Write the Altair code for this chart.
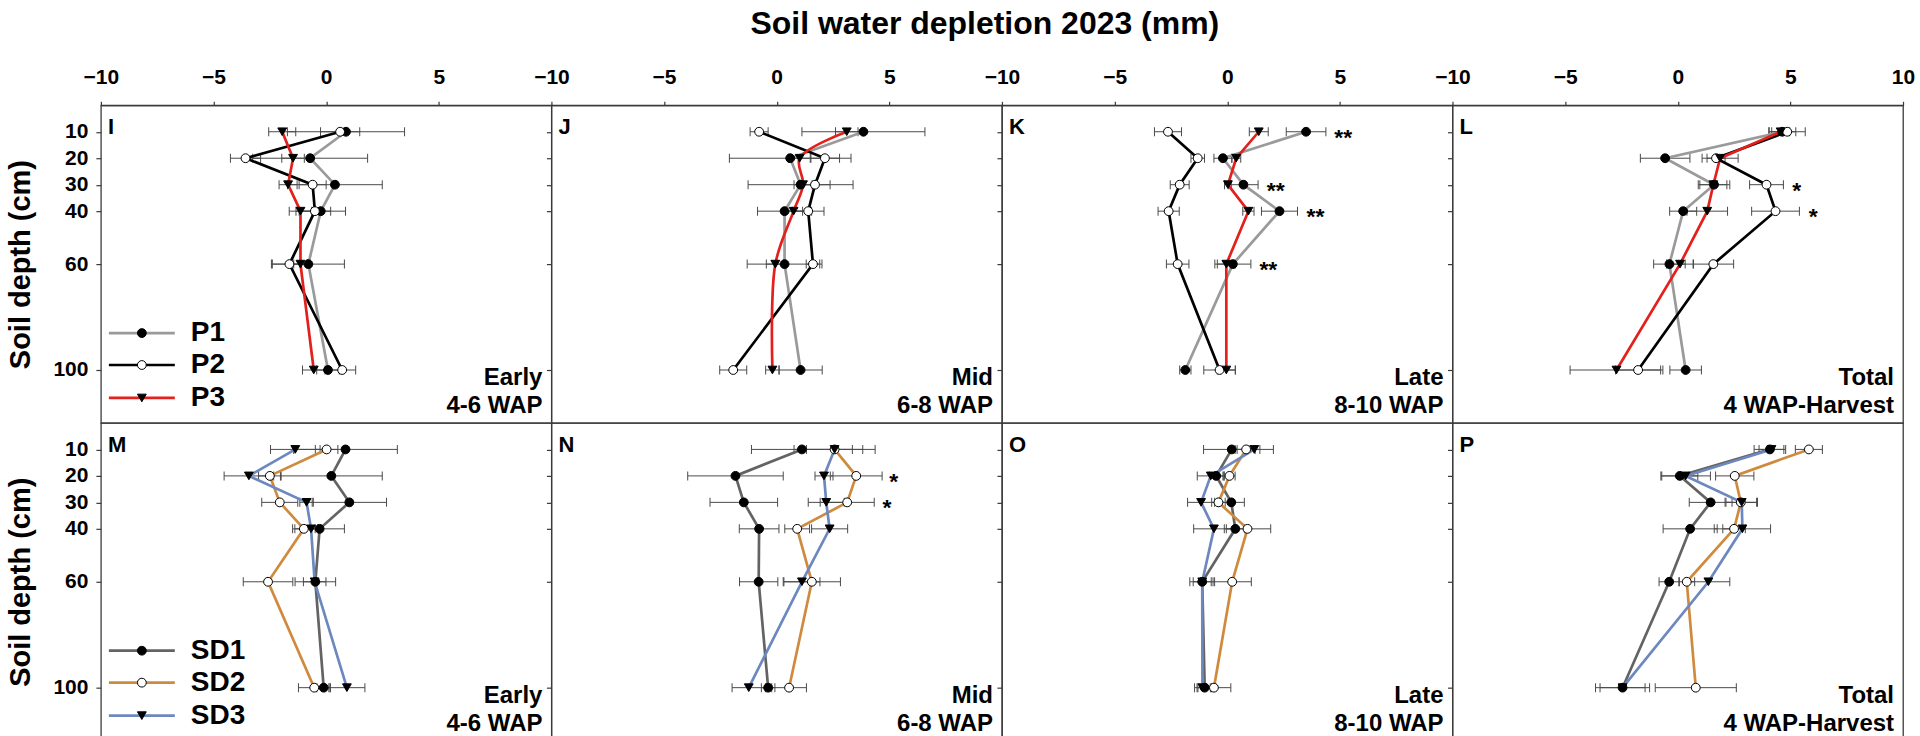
import altair as alt
import pandas as pd

FONT = "Liberation Sans"
DEPTHS = [10, 20, 30, 40, 60, 100]

P_SERIES = ["P1", "P2", "P3"]
SD_SERIES = ["SD1", "SD2", "SD3"]

# ---- Panel I (Early, 4-6 WAP) ----
I_P1 = [0.88, -0.71, 0.39, -0.24, -0.79, 0.08]
I_P1_err = [2.6, 2.55, 2.1, 1.1, 1.6, 0.5]
I_P2 = [0.62, -3.58, -0.60, -0.50, -1.63, 0.71]
I_P2_err = [0.87, 0.67, 0.6, 0.7, 0.8, 0.6]
I_P3 = [-1.95, -1.47, -1.69, -1.14, -1.14, -0.55]
I_P3_err = [0.6, 0.5, 0.4, 0.5, 0.3, 0.5]

# ---- Panel J (Mid, 6-8 WAP) ----
J_P1 = [3.85, 0.60, 1.06, 0.35, 0.35, 1.06]
J_P1_err = [2.73, 2.7, 2.33, 1.2, 1.66, 0.96]
J_P2 = [-0.78, 2.14, 1.70, 1.40, 1.61, -1.93]
J_P2_err = [0.4, 0.65, 0.67, 0.7, 0.3, 0.6]
J_P3 = [3.11, 1.02, 1.17, 0.75, -0.06, -0.19]
J_P3_err = [0.5, 0.5, 0.4, 0.4, 0.4, 0.3]

# ---- Panel K (Late, 8-10 WAP) ----
K_P1 = [3.50, -0.19, 0.72, 2.32, 0.25, -1.86]
K_P1_err = [0.88, 0.4, 0.65, 0.8, 0.8, 0.25]
K_P2 = [-2.63, -1.31, -2.11, -2.60, -2.20, -0.34]
K_P2_err = [0.6, 0.3, 0.42, 0.47, 0.5, 0.7]
K_P3 = [1.40, 0.40, 0.03, 0.94, -0.04, -0.04]
K_P3_err = [0.42, 0.2, 0.15, 0.25, 0.4, 0.4]

# ---- Panel L (Total, 4 WAP-Harvest) ----
L_P1 = [4.64, -0.56, 1.61, 0.24, -0.37, 0.35]
L_P1_err = [0.6, 1.1, 0.7, 0.6, 0.7, 0.7]
L_P2 = [4.86, 1.70, 3.94, 4.34, 1.58, -1.76]
L_P2_err = [0.8, 0.4, 0.75, 1.06, 0.9, 1.0]
L_P3 = [4.57, 1.88, 1.58, 1.31, 0.10, -2.72]
L_P3_err = [0.4, 0.8, 0.6, 0.9, 0.6, 2.06]

# ---- Panel M (Early, 4-6 WAP) ----
M_SD1 = [0.86, 0.23, 1.03, -0.29, -0.48, -0.11]
M_SD1_err = [2.3, 2.26, 1.65, 1.1, 0.9, 0.3]
M_SD2 = [0.02, -2.50, -2.06, -0.99, -2.58, -0.53]
M_SD2_err = [0.5, 0.5, 0.8, 0.5, 1.1, 0.7]
M_SD3 = [-1.37, -3.43, -0.87, -0.67, -0.51, 0.92]
M_SD3_err = [1.1, 1.1, 0.3, 0.3, 0.5, 0.8]

# ---- Panel N (Mid, 6-8 WAP) ----
N_SD1 = [1.12, -1.83, -1.46, -0.78, -0.80, -0.38]
N_SD1_err = [2.24, 2.12, 1.5, 0.88, 0.85, 0.3]
N_SD2 = [2.57, 3.53, 3.13, 0.91, 1.56, 0.55]
N_SD2_err = [1.8, 1.15, 1.2, 0.55, 1.27, 0.77]
N_SD3 = [2.57, 2.10, 2.20, 2.35, 1.12, -1.24]
N_SD3_err = [1.25, 0.4, 0.8, 0.8, 0.8, 0.74]

# ---- Panel O (Late, 8-10 WAP) ----
O_SD1 = [0.20, -0.49, 0.18, 0.36, -1.11, -1.00]
O_SD1_err = [1.25, 0.3, 0.58, 0.4, 0.4, 0.3]
O_SD2 = [0.84, 0.10, -0.39, 0.90, 0.22, -0.59]
O_SD2_err = [0.4, 0.25, 0.3, 1.03, 0.85, 0.75]
O_SD3 = [1.20, -0.73, -1.16, -0.59, -1.11, -1.10]
O_SD3_err = [0.85, 0.6, 0.6, 0.9, 0.55, 0.35]

# ---- Panel P (Total, 4 WAP-Harvest) ----
P_SD1 = [4.09, 0.09, 1.46, 0.55, -0.38, -2.45]
P_SD1_err = [0.7, 0.8, 0.95, 1.2, 0.45, 1.0]
P_SD2 = [5.82, 2.53, 2.80, 2.50, 0.40, 0.80]
P_SD2_err = [0.6, 0.85, 0.7, 0.5, 0.35, 1.8]
P_SD3 = [4.16, 0.35, 2.84, 2.87, 1.36, -2.45]
P_SD3_err = [0.55, 1.1, 0.7, 1.25, 0.95, 1.2]

# ---- significance marks ----
K_star_depth = [10, 30, 40, 60]
K_star_x = [4.75, 1.76, 3.52, 1.43]
L_star_depth = [30, 40]
L_star_x = [5.08, 5.82]
N_star_depth = [20, 30]
N_star_x = [5.0, 4.7]

# ---- styling ----
ALL_SERIES = P_SERIES + SD_SERIES
COLORS = ["#9a9a9a", "#000000", "#e3201b", "#636363", "#cf8a3e", "#6c88bf"]
SHAPES = ["circle", "circle", "triangle-down", "circle", "circle", "triangle-down"]
FILLS = ["#000000", "#ffffff", "#000000", "#000000", "#ffffff", "#000000"]

PANEL_W = 451
PANEL_H = 318
Y_MAX = 120
LEGEND_Y_PX = [228, 260, 293]

color_scale = alt.Scale(domain=ALL_SERIES, range=COLORS)
shape_scale = alt.Scale(domain=ALL_SERIES, range=SHAPES)
fill_scale = alt.Scale(domain=ALL_SERIES, range=FILLS)
x_scale = alt.Scale(domain=[-10, 10], nice=False, zero=False)
y_scale = alt.Scale(domain=[0, Y_MAX], reverse=True, nice=False, zero=False)


def build_df(series, means, errs):
    rows = []
    for s, m_list, e_list in zip(series, means, errs):
        for d, m, e in zip(DEPTHS, m_list, e_list):
            rows.append({"series": s, "depth": d, "value": m, "lo": m - e, "hi": m + e})
    return pd.DataFrame(rows)


def panel(letter, period, series, means, errs, top_row, first_col, last_col,
          stars=None, star_text="*", smooth=()):
    df = build_df(series, means, errs)
    if top_row:
        vals = [-10, -5, 0, 5, 10] if last_col else [-10, -5, 0, 5]
        xaxis = alt.Axis(orient="top", values=vals, title=None, grid=False,
                         labelFlush=False, tickSize=4, labelPadding=14,
                         format="d")
    else:
        xaxis = None
    if first_col:
        yaxis = alt.Axis(values=DEPTHS, title="Soil depth (cm)", grid=False,
                         tickSize=5, labelPadding=8, titlePadding=17,
                         domain=False)
    else:
        yaxis = alt.Axis(values=DEPTHS, title=None, grid=False, labels=False,
                         tickSize=5, domain=False)

    def X(f):
        return alt.X(f, type="quantitative", scale=x_scale, axis=xaxis)

    def Y(f):
        return alt.Y(f, type="quantitative", scale=y_scale, axis=yaxis)

    base = alt.Chart(df)
    err = base.mark_rule(color="#4a4a4a", strokeWidth=1).encode(
        x=X("lo"), x2="hi", y=Y("depth"))
    cap_lo = base.mark_tick(orient="vertical", size=9, thickness=1,
                            color="#4a4a4a", opacity=1).encode(x=X("lo"), y=Y("depth"))
    cap_hi = base.mark_tick(orient="vertical", size=9, thickness=1,
                            color="#4a4a4a", opacity=1).encode(x=X("hi"), y=Y("depth"))
    layers = [err, cap_lo, cap_hi]

    for s in series:
        interp = "catmull-rom" if s in smooth else "linear"
        layers.append(
            base.transform_filter(alt.datum.series == s).mark_line(
                strokeWidth=2.7, interpolate=interp).encode(
                x=X("value"), y=Y("depth"),
                color=alt.Color("series:N", scale=color_scale, legend=None),
                order=alt.Order("depth:Q")))

    pts = base.mark_point(filled=True, size=78, stroke="#000000",
                          strokeWidth=1, opacity=1).encode(
        x=X("value"), y=Y("depth"),
        shape=alt.Shape("series:N", scale=shape_scale, legend=None),
        fill=alt.Fill("series:N", scale=fill_scale, legend=None))
    layers.append(pts)

    lab = alt.Chart(pd.DataFrame({"t": [letter]})).mark_text(
        align="left", baseline="middle", fontSize=22, fontWeight="bold",
        font=FONT, color="#000000").encode(
        x=alt.value(7), y=alt.value(22), text="t:N")
    per = alt.Chart(pd.DataFrame({"a": [0]})).mark_text(
        text=period, align="right", baseline="alphabetic", fontSize=24,
        fontWeight="bold", font=FONT, lineHeight=28, color="#000000").encode(
        x=alt.value(PANEL_W - 9), y=alt.value(280))
    layers += [lab, per]

    if stars is not None:
        sdf = pd.DataFrame({"depth": stars[0], "sx": stars[1],
                            "txt": [star_text] * len(stars[0])})
        st = alt.Chart(sdf).mark_text(
            align="left", baseline="middle", dy=6, fontSize=23,
            fontWeight="bold", font=FONT, color="#000000").encode(
            x=X("sx"), y=Y("depth"), text="txt:N")
        layers.append(st)

    if first_col:
        ldf = pd.DataFrame({"series": series,
                            "ly": [p / PANEL_H * Y_MAX for p in LEGEND_Y_PX]})
        lbase = alt.Chart(ldf)
        lrule = lbase.mark_rule(strokeWidth=2.7).encode(
            x=alt.value(8), x2=alt.value(74), y=Y("ly"),
            color=alt.Color("series:N", scale=color_scale, legend=None))
        lpt = lbase.mark_point(filled=True, size=78, stroke="#000000",
                               strokeWidth=1, opacity=1).encode(
            x=alt.value(41), y=Y("ly"),
            shape=alt.Shape("series:N", scale=shape_scale, legend=None),
            fill=alt.Fill("series:N", scale=fill_scale, legend=None))
        ltxt = lbase.mark_text(align="left", baseline="middle", fontSize=28,
                               fontWeight="bold", font=FONT,
                               color="#000000").encode(
            x=alt.value(90), y=Y("ly"), text="series:N")
        layers += [lrule, lpt, ltxt]

    return alt.layer(*layers).properties(width=PANEL_W, height=PANEL_H)


panels = [
    panel("I", ["Early", "4-6 WAP"], P_SERIES, [I_P1, I_P2, I_P3],
          [I_P1_err, I_P2_err, I_P3_err], True, True, False),
    panel("J", ["Mid", "6-8 WAP"], P_SERIES, [J_P1, J_P2, J_P3],
          [J_P1_err, J_P2_err, J_P3_err], True, False, False, smooth=("P3",)),
    panel("K", ["Late", "8-10 WAP"], P_SERIES, [K_P1, K_P2, K_P3],
          [K_P1_err, K_P2_err, K_P3_err], True, False, False,
          stars=(K_star_depth, K_star_x), star_text="**"),
    panel("L", ["Total", "4 WAP-Harvest"], P_SERIES, [L_P1, L_P2, L_P3],
          [L_P1_err, L_P2_err, L_P3_err], True, False, True,
          stars=(L_star_depth, L_star_x), star_text="*"),
    panel("M", ["Early", "4-6 WAP"], SD_SERIES, [M_SD1, M_SD2, M_SD3],
          [M_SD1_err, M_SD2_err, M_SD3_err], False, True, False),
    panel("N", ["Mid", "6-8 WAP"], SD_SERIES, [N_SD1, N_SD2, N_SD3],
          [N_SD1_err, N_SD2_err, N_SD3_err], False, False, False,
          stars=(N_star_depth, N_star_x), star_text="*"),
    panel("O", ["Late", "8-10 WAP"], SD_SERIES, [O_SD1, O_SD2, O_SD3],
          [O_SD1_err, O_SD2_err, O_SD3_err], False, False, False),
    panel("P", ["Total", "4 WAP-Harvest"], SD_SERIES, [P_SD1, P_SD2, P_SD3],
          [P_SD1_err, P_SD2_err, P_SD3_err], False, False, True),
]

chart = alt.concat(*panels, columns=4, spacing=0, bounds="flush").properties(
    title=alt.TitleParams("Soil water depletion 2023 (mm)", fontSize=32,
                          font=FONT, fontWeight="bold", anchor="middle",
                          offset=25, dx=24, color="#000000"),
    padding={"left": 6, "top": 7, "right": 4, "bottom": 0},
    background="white",
).configure_view(stroke="#3a3a3a", strokeWidth=1.3).configure_axis(
    labelFont=FONT, labelFontSize=21, labelFontWeight="bold",
    labelColor="#000000", titleFont=FONT, titleFontSize=29,
    titleFontWeight="bold", titleColor="#000000", tickColor="#3a3a3a",
    domainColor="#3a3a3a", tickWidth=1.2
)

chart.save("out.html", embed_options={"renderer": "svg", "actions": False})
